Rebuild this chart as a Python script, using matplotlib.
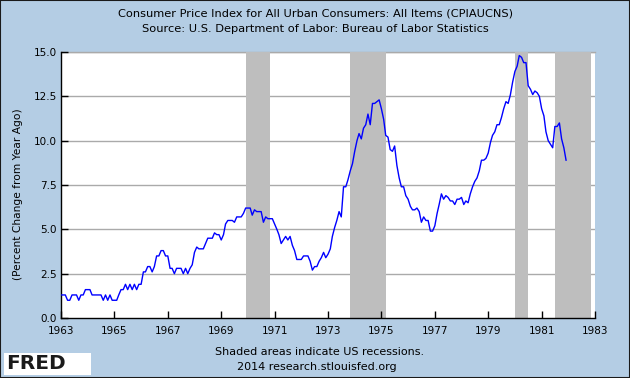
import numpy as np
import pandas as pd
import matplotlib
matplotlib.use("Agg")
import matplotlib.pyplot as plt
import matplotlib.dates as mdates
from matplotlib.patches import Rectangle

# CPI-U, percent change from year ago, monthly (Jan..Dec)
y1963 = [1.3, 1.3, 1.3, 1.0, 1.0, 1.3, 1.3, 1.3, 1.0, 1.3, 1.3, 1.6]
y1964 = [1.6, 1.6, 1.3, 1.3, 1.3, 1.3, 1.3, 1.0, 1.3, 1.0, 1.3, 1.0]
y1965 = [1.0, 1.0, 1.3, 1.6, 1.6, 1.9, 1.6, 1.9, 1.6, 1.9, 1.6, 1.9]
y1966 = [1.9, 2.6, 2.6, 2.9, 2.9, 2.6, 2.9, 3.5, 3.5, 3.8, 3.8, 3.5]
y1967 = [3.5, 2.8, 2.8, 2.5, 2.8, 2.8, 2.8, 2.5, 2.8, 2.5, 2.8, 3.0]
y1968 = [3.7, 4.0, 3.9, 3.9, 3.9, 4.2, 4.5, 4.5, 4.5, 4.8, 4.7, 4.7]
y1969 = [4.4, 4.7, 5.3, 5.5, 5.5, 5.5, 5.4, 5.7, 5.7, 5.7, 5.9, 6.2]
y1970 = [6.2, 6.2, 5.8, 6.1, 6.0, 6.0, 6.0, 5.4, 5.7, 5.6, 5.6, 5.6]
y1971 = [5.3, 5.0, 4.7, 4.2, 4.4, 4.6, 4.4, 4.6, 4.1, 3.8, 3.3, 3.3]
y1972 = [3.3, 3.5, 3.5, 3.5, 3.2, 2.7, 2.9, 2.9, 3.2, 3.4, 3.7, 3.4]
y1973 = [3.6, 3.9, 4.6, 5.1, 5.5, 6.0, 5.7, 7.4, 7.4, 7.8, 8.3, 8.7]
y1974 = [9.4, 10.0, 10.4, 10.1, 10.7, 10.9, 11.5, 10.9, 12.1, 12.1, 12.2, 12.3]
y1975 = [11.8, 11.2, 10.3, 10.2, 9.5, 9.4, 9.7, 8.6, 7.9, 7.4, 7.4, 6.9]
y1976 = [6.7, 6.3, 6.1, 6.1, 6.2, 6.0, 5.4, 5.7, 5.5, 5.5, 4.9, 4.9]
y1977 = [5.2, 5.9, 6.4, 7.0, 6.7, 6.9, 6.8, 6.6, 6.6, 6.4, 6.7, 6.7]
y1978 = [6.8, 6.4, 6.6, 6.5, 7.0, 7.4, 7.7, 7.9, 8.3, 8.9, 8.9, 9.0]
y1979 = [9.3, 9.9, 10.3, 10.5, 10.9, 10.9, 11.3, 11.8, 12.2, 12.1, 12.6, 13.3]
y1980 = [13.9, 14.2, 14.8, 14.7, 14.4, 14.4, 13.1, 12.9, 12.6, 12.8, 12.7, 12.5]
y1981 = [11.8, 11.4, 10.5, 10.0, 9.8, 9.6, 10.8, 10.8, 11.0, 10.1, 9.6, 8.9]

rec_start = ["1969-12-01", "1973-11-01", "1980-01-01", "1981-07-01"]
rec_end = ["1970-11-01", "1975-03-01", "1980-07-01", "1982-11-01"]

yticks = [0.0, 2.5, 5.0, 7.5, 10.0, 12.5, 15.0]
xtick_years = list(range(1963, 1985, 2))

values = np.concatenate([y1963, y1964, y1965, y1966, y1967, y1968, y1969, y1970,
                         y1971, y1972, y1973, y1974, y1975, y1976, y1977, y1978,
                         y1979, y1980, y1981])
dates = pd.date_range("1963-01-01", periods=len(values), freq="MS")

bg = "#b4cde4"
fig = plt.figure(figsize=(6.3, 3.78), dpi=100, facecolor=bg)
ax = fig.add_axes([61 / 630, 1 - 318 / 378, 534 / 630, 266 / 378])
ax.set_facecolor("white")

for s, e in zip(rec_start, rec_end):
    ax.axvspan(pd.Timestamp(s), pd.Timestamp(e), color="#bebebe", lw=0, zorder=1)

for v in yticks[1:]:
    ax.axhline(v, color="#aaaaaa", lw=1, zorder=0.5)

ax.plot(dates, values, color="#0000ff", lw=1, zorder=3)

ax.set_xlim(pd.Timestamp("1963-01-01"), pd.Timestamp("1983-01-01"))
ax.set_ylim(0, 15)
ax.set_yticks(yticks)
ax.yaxis.set_major_formatter(plt.FuncFormatter(lambda v, p: f"{v:.1f}"))
ax.set_xticks([pd.Timestamp(f"{y}-01-01") for y in xtick_years])
ax.xaxis.set_major_formatter(mdates.DateFormatter("%Y"))
ax.tick_params(direction="in", length=5, width=1, labelsize=7.5, colors="black")
ax.tick_params(axis="x", pad=5.5)
ax.tick_params(axis="y", pad=3)

for side in ["top", "right"]:
    ax.spines[side].set_visible(False)
ax.spines["left"].set_linewidth(1)
ax.spines["bottom"].set_linewidth(1)
ax.plot([0, 1], [1, 1], transform=ax.transAxes, color="#aaaaaa", lw=1, clip_on=False, zorder=0.5)

ax.set_ylabel("(Percent Change from Year Ago)", fontsize=7.7)
ax.yaxis.set_label_coords(-0.071, 0.466)

fig.text(0.5, 1 - 13 / 378, "Consumer Price Index for All Urban Consumers: All Items (CPIAUCNS)",
         ha="center", va="center", fontsize=8.2)
fig.text(0.5, 1 - 29 / 378, "Source: U.S. Department of Labor: Bureau of Labor Statistics",
         ha="center", va="center", fontsize=8.2)
fig.text(0.508, 1 - 352 / 378, "Shaded areas indicate US recessions.",
         ha="center", va="center", fontsize=8)
fig.text(0.503, 1 - 367 / 378, "2014 research.stlouisfed.org",
         ha="center", va="center", fontsize=8)

# FRED logo
fig.patches.append(Rectangle((4 / 630, 3 / 378), 87 / 630, 22 / 378, transform=fig.transFigure,
                             facecolor="white", edgecolor="none", zorder=2))
fig.text(6 / 630, 1 - 363.5 / 378, "FRED", ha="left", va="center", fontsize=14.5,
         fontweight="heavy", color="#1a1a1a", zorder=3)
logo = fig.add_axes([71 / 630, 5 / 378, 18 / 630, 16 / 378])
logo.plot([0, 1, 2, 3, 4], [0.5, 1.5, 1.0, 2.5, 3.5], color="#6aa84f", lw=1)
logo.plot([0, 1, 2, 3, 4], [1.0, 2.0, 1.5, 3.0, 3.0], color="#8fb3d9", lw=1)
logo.set_xlim(0, 4)
logo.set_ylim(0, 4)
logo.axis("off")

fig.patches.append(Rectangle((0, 0), 1, 1, transform=fig.transFigure, facecolor="none",
                             edgecolor="#1a1a1a", lw=1.5, zorder=5))

fig.savefig("out.png", dpi=100, facecolor=bg)
